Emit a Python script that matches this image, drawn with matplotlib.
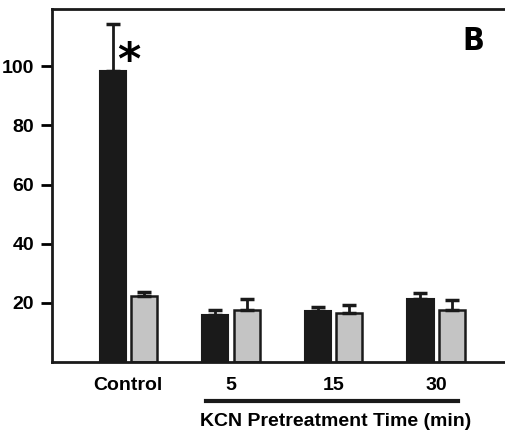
import matplotlib
matplotlib.use("Agg")
import matplotlib.pyplot as plt
import numpy as np

groups = ["Control", "5", "15", "30"]
black_vals = [98.5, 15.8, 17.2, 21.3]
black_err = [15.7, 1.7, 1.5, 2.0]
gray_vals = [22.3, 17.6, 16.4, 17.5]
gray_err = [1.3, 3.8, 2.8, 3.4]
yticks = [20, 40, 60, 80, 100]

plt.rcParams['font.family'] = ['Liberation Sans', 'DejaVu Sans']
plt.rcParams['font.weight'] = 'bold'

fig = plt.figure(figsize=(5.05, 4.32), dpi=100)
ax = fig.add_axes([0.103, 0.162, 0.907, 0.979 - 0.162])

x = np.arange(len(groups))
w = 0.256
off = 0.153
ekw = dict(elinewidth=2, capthick=2.5, capsize=5, ecolor='#1a1a1a')
ax.bar(x - off, black_vals, w, color='#1a1a1a', edgecolor='#1a1a1a', linewidth=1.5,
       yerr=[np.zeros(len(groups)), black_err], error_kw=ekw, zorder=3)
ax.bar(x + off, gray_vals, w, color='#c4c4c4', edgecolor='#1a1a1a', linewidth=1.8,
       yerr=[np.zeros(len(groups)), gray_err], error_kw=ekw, zorder=2)

ax.set_xlim(-0.744, 3.72)
ax.set_ylim(0, 119.3)
ax.set_yticks(yticks)
ax.set_yticklabels([str(t) for t in yticks], fontsize=14, fontweight='bold')
ax.set_xticks(x)
ax.set_xticklabels(groups, fontsize=14, fontweight='bold')
ax.tick_params(axis='x', length=0, pad=11)
ax.tick_params(axis='y', length=8, width=2, direction='out', pad=5)
for s in ['left', 'bottom', 'top']:
    ax.spines[s].set_linewidth(2)
    ax.spines[s].set_color('#1a1a1a')
ax.spines['right'].set_visible(False)

ax.text(0.0, 101.5, '*', fontsize=32, fontweight='bold', ha='center', va='center',
        family='DejaVu Sans')
ax.text(0.919, 0.909, 'B', transform=ax.transAxes, fontsize=23, fontweight='bold',
        ha='center', va='center', family='DejaVu Sans', fontstretch='condensed')

# line under KCN groups
y_line = 1 - 401 / 432
fig.add_artist(plt.Line2D([206 / 505, 458 / 505], [y_line, y_line], color='#1a1a1a', lw=3))
fig.text(336 / 505, 1 - 421 / 432, 'KCN Pretreatment Time (min)', ha='center', va='center',
         fontsize=14, fontweight='bold')

fig.savefig('out.png', dpi=100)
